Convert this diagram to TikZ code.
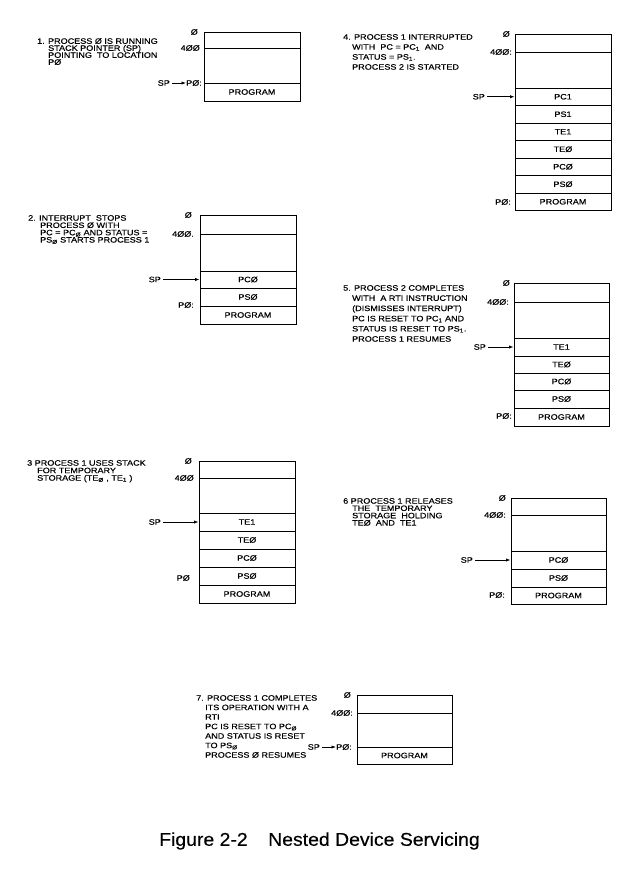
\documentclass[tikz,border=0pt]{standalone}
\usepackage{fontspec}
\setmainfont{Liberation Sans}
\newfontfamily\lblf{Liberation Sans}[FakeStretch=1.16,FakeBold=0.4]
\newfontfamily\capff{Liberation Sans}[FakeStretch=1.05,FakeBold=0.3]
\usetikzlibrary{arrows.meta}
\newcommand{\descfont}[1]{\lblf\fontsize{7.8pt}{#1}\selectfont}
\tikzset{
  cell/.style={draw=black, line width=0.8pt, inner sep=0pt, font=\lblf\fontsize{7.8pt}{8pt}\selectfont},
  addr/.style={anchor=east, inner sep=0pt, font=\lblf\fontsize{7.8pt}{8pt}\selectfont},
  desc/.style={anchor=north west, inner sep=0pt, align=left, font={\descfont{#1}}},
  sparrow/.style={-{Latex[length=4.5pt,width=3.2pt]}, line width=0.7pt, shorten <=2pt},
  captxt/.style={anchor=west, inner sep=0pt, font=\capff\fontsize{18.5pt}{20pt}\selectfont}
}
\newcommand{\mycell}[6]{%
  \pgfmathsetmacro{\cw}{#3-#2}\pgfmathsetmacro{\ch}{#5-#4}%
  \pgfmathsetmacro{\cx}{(#2+#3)/2}\pgfmathsetmacro{\cy}{(#4+#5)/2}%
  \node[cell, minimum width=\cw pt, minimum height=\ch pt] (#1) at (\cx,\cy) {#6};}
\newcommand{\ind}[1]{\hspace*{#1}}
\begin{document}
\lineskiplimit=-20pt
\lineskip=0pt
\begin{tikzpicture}[x=1pt,y=-1pt]
\fill[white] (0,0) rectangle (640,878);
\useasboundingbox (0,0) rectangle (640,878);

% ---------- Panel 1 ----------
\node[desc=7pt] (t1) at (37,38) {1. PROCESS Ø IS RUNNING\\\ind{11pt}STACK POINTER (SP)\\\ind{11pt}POINTING\ \ TO LOCATION\\\ind{11pt}PØ};
\mycell{p1a}{204}{300}{32}{48}{}
\mycell{p1b}{204}{300}{48}{83}{}
\mycell{p1prog}{204}{300}{83}{101}{PROGRAM}
\node[addr] (p1z) at (198,32) {Ø};
\node[addr] (p1f) at (200,48) {4ØØ};
\node[addr] (p1p0) at (202,83) {PØ:};
\node[addr] (p1sp) at ([xshift=-16pt]p1p0.west) {SP};
\draw[sparrow] (p1sp.east) -- (p1p0.west);

% ---------- Panel 2 ----------
\node[desc=7.3pt] (t2) at (28,215) {2. INTERRUPT\ \ STOPS\\\ind{12pt}PROCESS Ø WITH\\\ind{12pt}PC = PC\textsubscript{Ø} AND STATUS =\\\ind{12pt}PS\textsubscript{Ø}\ STARTS PROCESS 1};
\mycell{p2a}{200}{296}{215}{234}{}
\mycell{p2b}{200}{296}{234}{271}{}
\mycell{p2pc0}{200}{296}{271}{288}{PCØ}
\mycell{p2ps0}{200}{296}{288}{306}{PSØ}
\mycell{p2prog}{200}{296}{306}{324}{PROGRAM}
\node[addr] (p2z) at (192,215) {Ø};
\node[addr] (p2f) at (194,234) {4ØØ.};
\node[addr] (p2sp) at (161,279.5) {SP};
\draw[sparrow] (p2sp.east) -- (p2sp.east -| p2pc0.west);
\node[addr] (p2p0) at (194,305) {PØ:};

% ---------- Panel 3 ----------
\node[desc=7.5pt] (t3) at (27,460) {3 PROCESS 1 USES STACK\\\ind{10pt}FOR TEMPORARY\\\ind{10pt}STORAGE (TE\textsubscript{Ø} , TE\textsubscript{1} )};
\mycell{p3a}{199}{295}{461}{478}{}
\mycell{p3b}{199}{295}{478}{513}{}
\mycell{p3te1}{199}{295}{513}{531}{TE1}
\mycell{p3te0}{199}{295}{531}{549}{TEØ}
\mycell{p3pc0}{199}{295}{549}{567}{PCØ}
\mycell{p3ps0}{199}{295}{567}{585}{PSØ}
\mycell{p3prog}{199}{295}{585}{603}{PROGRAM}
\node[addr] (p3z) at (192,461) {Ø};
\node[addr] (p3f) at (194,478) {4ØØ};
\node[addr] (p3sp) at (161,522) {SP};
\draw[sparrow] (p3sp.east) -- (p3sp.east -| p3te1.west);
\node[addr] (p3p0) at (190,578) {PØ};

% ---------- Panel 4 ----------
\node[desc=10pt] (t4) at (343,34) {4. PROCESS 1 INTERRUPTED\\\ind{9pt}WITH\ \ PC = PC\textsubscript{1}\ \ AND\\\ind{9pt}STATUS = PS\textsubscript{1}.\\\ind{9pt}PROCESS 2 IS STARTED};
\mycell{p4a}{515}{611}{34}{52}{}
\mycell{p4b}{515}{611}{52}{88}{}
\mycell{p4pc1}{515}{611}{88}{105.5}{PC1}
\mycell{p4ps1}{515}{611}{105.5}{123}{PS1}
\mycell{p4te1}{515}{611}{123}{140.5}{TE1}
\mycell{p4te0}{515}{611}{140.5}{158}{TEØ}
\mycell{p4pc0}{515}{611}{158}{175.5}{PCØ}
\mycell{p4ps0}{515}{611}{175.5}{193}{PSØ}
\mycell{p4prog}{515}{611}{193}{210.5}{PROGRAM}
\node[addr] (p4z) at (510,34) {Ø};
\node[addr] (p4f) at (512,52) {4ØØ:};
\node[addr] (p4sp) at (485,96.75) {SP};
\draw[sparrow] (p4sp.east) -- (p4sp.east -| p4pc1.west);
\node[addr] (p4p0) at (511,202) {PØ:};

% ---------- Panel 5 ----------
\node[desc=10.2pt] (t5) at (343,285) {5. PROCESS 2 COMPLETES\\\ind{9pt}WITH\ \ A RTI INSTRUCTION\\\ind{9pt}(DISMISSES INTERRUPT)\\\ind{9pt}PC IS RESET TO PC\textsubscript{1} AND\\\ind{9pt}STATUS IS RESET TO PS\textsubscript{1}.\\\ind{9pt}PROCESS 1 RESUMES};
\mycell{p5a}{514}{609}{283}{302}{}
\mycell{p5b}{514}{609}{302}{338}{}
\mycell{p5te1}{514}{609}{338}{356}{TE1}
\mycell{p5te0}{514}{609}{356}{373}{TEØ}
\mycell{p5pc0}{514}{609}{373}{390}{PCØ}
\mycell{p5ps0}{514}{609}{390}{408}{PSØ}
\mycell{p5prog}{514}{609}{408}{426}{PROGRAM}
\node[addr] (p5z) at (510,283) {Ø};
\node[addr] (p5f) at (509,302) {4ØØ:};
\node[addr] (p5sp) at (486,347) {SP};
\draw[sparrow] (p5sp.east) -- (p5sp.east -| p5te1.west);
\node[addr] (p5p0) at (512,416) {PØ:};

% ---------- Panel 6 ----------
\node[desc=7.3pt] (t6) at (343,498) {6 PROCESS 1 RELEASES\\\ind{9pt}THE\ \ TEMPORARY\\\ind{9pt}STORAGE\ \ HOLDING\\\ind{9pt}TEØ\ \ AND\ \ TE1};
\mycell{p6a}{511}{606}{498}{515}{}
\mycell{p6b}{511}{606}{515}{551}{}
\mycell{p6pc0}{511}{606}{551}{569}{PCØ}
\mycell{p6ps0}{511}{606}{569}{587}{PSØ}
\mycell{p6prog}{511}{606}{587}{604}{PROGRAM}
\node[addr] (p6z) at (506,498) {Ø};
\node[addr] (p6f) at (506,515) {4ØØ:};
\node[addr] (p6sp) at (473,560) {SP};
\draw[sparrow] (p6sp.east) -- (p6sp.east -| p6pc0.west);
\node[addr] (p6p0) at (505,595) {PØ:};

% ---------- Panel 7 ----------
\node[desc=9.5pt] (t7) at (196,695) {7. PROCESS 1 COMPLETES\\\ind{9pt}ITS OPERATION WITH A\\\ind{9pt}RTI\\\ind{9pt}PC IS RESET TO PC\textsubscript{Ø}\\\ind{9pt}AND STATUS IS RESET\\\ind{9pt}TO PS\textsubscript{Ø}\\\ind{9pt}PROCESS Ø RESUMES};
\mycell{p7a}{357}{452}{695}{713}{}
\mycell{p7b}{357}{452}{713}{747}{}
\mycell{p7prog}{357}{452}{747}{764}{PROGRAM}
\node[addr] (p7z) at (351,695) {Ø};
\node[addr] (p7f) at (353,713) {4ØØ:};
\node[addr] (p7p0) at (352,747) {PØ:};
\node[addr] (p7sp) at ([xshift=-16pt]p7p0.west) {SP};
\draw[sparrow] (p7sp.east) -- (p7p0.west);

% ---------- Caption ----------
\node[captxt] (cap1) at (159,841) {Figure 2-2};
\node[captxt] (cap2) at (268,841) {Nested Device Servicing};
\end{tikzpicture}
\end{document}
